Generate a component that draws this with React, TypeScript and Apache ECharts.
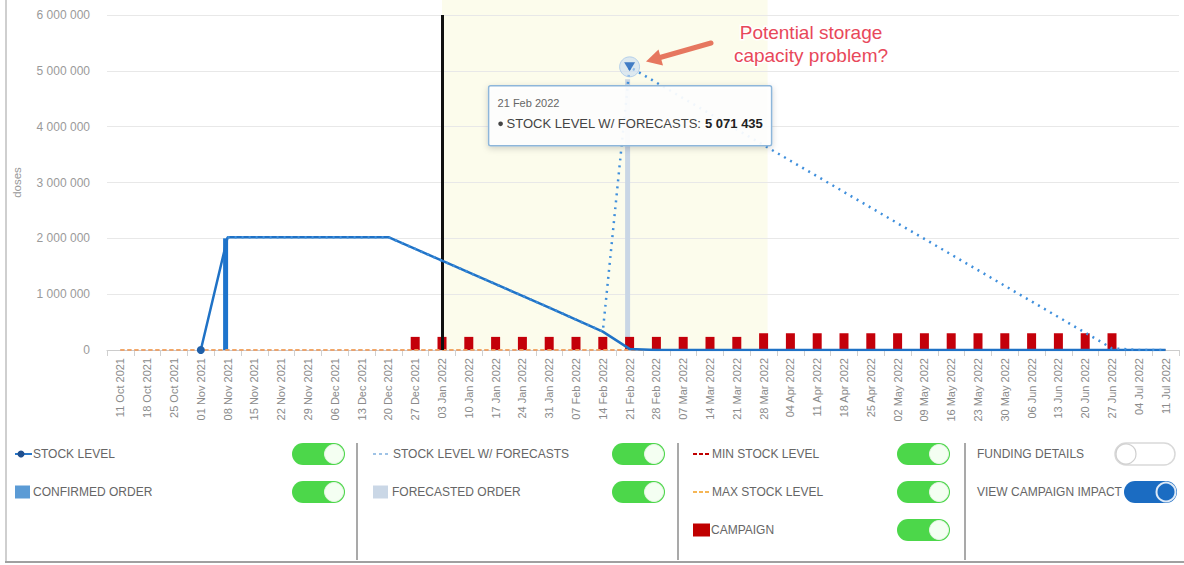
import React, { useEffect, useRef } from 'react';
import * as echarts from 'echarts';

const weeks = [
  '11 Oct 2021', '18 Oct 2021', '25 Oct 2021', '01 Nov 2021', '08 Nov 2021', '15 Nov 2021', '22 Nov 2021', '29 Nov 2021',
  '06 Dec 2021', '13 Dec 2021', '20 Dec 2021', '27 Dec 2021', '03 Jan 2022', '10 Jan 2022', '17 Jan 2022', '24 Jan 2022',
  '31 Jan 2022', '07 Feb 2022', '14 Feb 2022', '21 Feb 2022', '28 Feb 2022', '07 Mar 2022', '14 Mar 2022', '21 Mar 2022',
  '28 Mar 2022', '04 Apr 2022', '11 Apr 2022', '18 Apr 2022', '25 Apr 2022', '02 May 2022', '09 May 2022', '16 May 2022',
  '23 May 2022', '30 May 2022', '06 Jun 2022', '13 Jun 2022', '20 Jun 2022', '27 Jun 2022', '04 Jul 2022', '11 Jul 2022',
];

const stockLevel = [
  null, null, null, 0, 2020000, 2020000, 2020000, 2020000,
  2020000, 2020000, 2020000, 1810000, 1600000, 1390000, 1180000, 970000,
  760000, 545000, 330000, 20000, 0, 0, 0, 0,
  0, 0, 0, 0, 0, 0, 0, 0,
  0, 0, 0, 0, 0, 0, 0, 0,
];

const stockWithForecasts = [
  null, null, null, null, 2020000, 2020000, 2020000, 2020000,
  2020000, 2020000, 2020000, 1810000, 1600000, 1390000, 1180000, 970000,
  760000, 545000, 330000, 5071435, 4790000, 4510000, 4230000, 3950000,
  3670000, 3390000, 3110000, 2830000, 2550000, 2270000, 1990000, 1710000,
  1430000, 1150000, 870000, 590000, 310000, 30000, 0, 0,
];

const confirmedOrder = [
  null, null, null, null, 2000000, null, null, null,
  null, null, null, null, null, null, null, null,
  null, null, null, null, null, null, null, null,
  null, null, null, null, null, null, null, null,
  null, null, null, null, null, null, null, null,
];

const forecastedOrder = [
  null, null, null, null, null, null, null, null,
  null, null, null, null, null, null, null, null,
  null, null, null, 4850000, null, null, null, null,
  null, null, null, null, null, null, null, null,
  null, null, null, null, null, null, null, null,
];

const campaign = [
  null, null, null, null, null, null, null, null,
  null, null, null, 235000, 235000, 235000, 235000, 235000,
  235000, 235000, 235000, 235000, 235000, 235000, 235000, 235000,
  300000, 300000, 300000, 300000, 300000, 300000, 300000, 300000,
  300000, 300000, 300000, 300000, 300000, 300000, null, null,
];

const minStockLevel = weeks.map(() => 0);
const maxStockLevel = weeks.map(() => 0);

const yTicks = { min: 0, max: 6000000, interval: 1000000 };
const todayWeek = '03 Jan 2022';
const bandStartWeek = '03 Jan 2022';
const bandEndWeek = '28 Mar 2022';

const legendCol1 = ['STOCK LEVEL', 'CONFIRMED ORDER'];
const legendCol2 = ['STOCK LEVEL W/ FORECASTS', 'FORECASTED ORDER'];
const legendCol3 = ['MIN STOCK LEVEL', 'MAX STOCK LEVEL', 'CAMPAIGN'];
const legendCol4 = ['FUNDING DETAILS', 'VIEW CAMPAIGN IMPACT'];
const annotationLines = ['Potential storage', 'capacity problem?'];

const FONT = '"Liberation Sans", Arial, Helvetica, sans-serif';
const fmt = (v: number) => String(Math.round(v)).replace(/\B(?=(\d{3})+(?!\d))/g, ' ');

const peakValue = Math.max(...(stockWithForecasts.filter((v) => v !== null) as number[]));
const peakIndex = stockWithForecasts.indexOf(peakValue);
const peakSeries = stockWithForecasts.map((v, i) => (i === peakIndex ? v : null));

function txt(x: number, y: number, text: string, size = 12, fill = '#666', extra: any = {}) {
  return {
    type: 'text',
    z: 50,
    style: {
      x, y, text, fill,
      font: `${size}px ${FONT}`,
      verticalAlign: 'middle', textVerticalAlign: 'middle',
      ...extra,
    },
  };
}

function toggle(x: number, cy: number, mode: 'green' | 'off' | 'blue', w = 53) {
  const h = 22;
  const y = cy - h / 2;
  if (mode === 'off') {
    return [
      { type: 'rect', z: 50, shape: { x, y, width: w, height: h, r: 11 }, style: { fill: '#fff', stroke: '#d9d9d9', lineWidth: 1.5 } },
      { type: 'circle', z: 51, shape: { cx: x + 11, cy, r: 10 }, style: { fill: '#fff', stroke: '#cfcfcf', lineWidth: 1.2 } },
    ];
  }
  const fill = mode === 'green' ? '#4cd74a' : '#1b6cc2';
  return [
    { type: 'rect', z: 50, shape: { x, y, width: w, height: h, r: 11 }, style: { fill } },
    {
      type: 'circle', z: 51, shape: { cx: x + w - 11, cy, r: 9.5 },
      style: mode === 'green' ? { fill: '#f4fff2', stroke: '#e6f5e4', lineWidth: 1 } : { fill: '#1b6cc2', stroke: '#dfeaf7', lineWidth: 2 },
    },
  ];
}

function buildGraphics(chart: any) {
  const xa = chart.convertToPixel({ xAxisIndex: 0 }, weeks.indexOf(bandStartWeek));
  const xb = chart.convertToPixel({ xAxisIndex: 0 }, weeks.indexOf(bandEndWeek));
  const y0 = chart.convertToPixel({ yAxisIndex: 0 }, 0);
  const [px, py] = chart.convertToPixel({ gridIndex: 0 }, [peakIndex, peakValue]);

  const rows = [454, 492, 530];
  const els: any[] = [];

  // highlighted band
  els.push({ type: 'rect', z: -1, shape: { x: xa, y: 0, width: xb - xa + 4, height: y0 }, style: { fill: '#fcfcec' } });

  // card borders
  els.push({ type: 'rect', z: 50, shape: { x: 5, y: 0, width: 2, height: 562 }, style: { fill: '#cfcfcf' } });
  els.push({ type: 'rect', z: 50, shape: { x: 5, y: 561, width: 1179, height: 2 }, style: { fill: '#a0a0a0' } });

  // dividers
  [357, 678, 965].forEach((x) => {
    els.push({ type: 'line', z: 50, shape: { x1: x, y1: 443, x2: x, y2: 560 }, style: { stroke: '#8c8c8c', lineWidth: 1.5 } });
  });

  // column 1
  els.push({ type: 'line', z: 50, shape: { x1: 15, y1: rows[0], x2: 32, y2: rows[0] }, style: { stroke: '#2a78c8', lineWidth: 2 } });
  els.push({ type: 'circle', z: 51, shape: { cx: 21, cy: rows[0], r: 3.5 }, style: { fill: '#1f4f8f' } });
  els.push(txt(33, rows[0], legendCol1[0]));
  els.push({ type: 'rect', z: 50, shape: { x: 15, y: rows[1] - 6.5, width: 15, height: 13 }, style: { fill: '#5b9bd5' } });
  els.push(txt(33, rows[1], legendCol1[1]));
  els.push(...toggle(292, rows[0], 'green'), ...toggle(292, rows[1], 'green'));

  // column 2
  els.push({ type: 'line', z: 50, shape: { x1: 373, y1: rows[0], x2: 390, y2: rows[0] }, style: { stroke: '#9fc3e6', lineWidth: 2, lineDash: [3, 3] } });
  els.push(txt(393, rows[0], legendCol2[0]));
  els.push({ type: 'rect', z: 50, shape: { x: 373, y: rows[1] - 6.5, width: 15, height: 13 }, style: { fill: '#cad7e6' } });
  els.push(txt(392, rows[1], legendCol2[1]));
  els.push(...toggle(612, rows[0], 'green'), ...toggle(612, rows[1], 'green'));

  // column 3
  els.push({ type: 'line', z: 50, shape: { x1: 693, y1: rows[0], x2: 710, y2: rows[0] }, style: { stroke: '#c00000', lineWidth: 2, lineDash: [4, 2] } });
  els.push(txt(712, rows[0], legendCol3[0]));
  els.push({ type: 'line', z: 50, shape: { x1: 693, y1: rows[1], x2: 710, y2: rows[1] }, style: { stroke: '#f5b656', lineWidth: 2, lineDash: [4, 2] } });
  els.push(txt(712, rows[1], legendCol3[1]));
  els.push({ type: 'rect', z: 50, shape: { x: 693, y: rows[2] - 6.5, width: 17, height: 13 }, style: { fill: '#c00000' } });
  els.push(txt(711, rows[2], legendCol3[2]));
  els.push(...toggle(897, rows[0], 'green'), ...toggle(897, rows[1], 'green'), ...toggle(897, rows[2], 'green'));

  // column 4
  els.push(txt(977, rows[0], legendCol4[0]));
  els.push(txt(977, rows[1], legendCol4[1]));
  els.push(...toggle(1115, rows[0], 'off', 60), ...toggle(1124, rows[1], 'blue', 53));

  // tooltip
  const tx = px - 141;
  const ty = py + 19;
  els.push({
    type: 'rect', z: 60,
    shape: { x: tx, y: ty, width: 283, height: 60, r: 2 },
    style: { fill: 'rgba(255,255,255,0.92)', stroke: '#8db6da', lineWidth: 1.5, shadowBlur: 6, shadowColor: 'rgba(0,0,0,0.18)', shadowOffsetY: 2 },
  });
  els.push({ type: 'text', z: 61, style: { x: tx + 9, y: ty + 17, text: weeks[peakIndex], fill: '#666', font: `11px ${FONT}`, verticalAlign: 'middle', textVerticalAlign: 'middle' } });
  els.push({ type: 'circle', z: 61, shape: { cx: tx + 12, cy: ty + 38, r: 2.3 }, style: { fill: '#444' } });
  els.push({
    type: 'text', z: 61,
    style: {
      x: tx + 18, y: ty + 38,
      text: `{a|STOCK LEVEL W/ FORECASTS: }{b|${fmt(peakValue)}}`,
      verticalAlign: 'middle', textVerticalAlign: 'middle',
      rich: {
        a: { fill: '#444', fontSize: 13, fontFamily: FONT },
        b: { fill: '#222', fontSize: 13, fontFamily: FONT, fontWeight: 'bold' },
      },
    },
  });

  // arrow
  els.push({ type: 'line', z: 62, shape: { x1: 711, y1: 43, x2: 660, y2: 57.5 }, style: { stroke: '#e6775f', lineWidth: 5, lineCap: 'round' } });
  els.push({ type: 'polygon', z: 62, shape: { points: [[646, 61.5], [663, 65.5], [658.5, 49.5]] }, style: { fill: '#e6775f' } });

  // annotation text
  annotationLines.forEach((line, i) => {
    els.push({
      type: 'text', z: 63,
      style: {
        x: 811, y: 32 + i * 23, text: line,
        fill: '#e8485a', font: `19px ${FONT}`,
        align: 'center', textAlign: 'center', verticalAlign: 'middle', textVerticalAlign: 'middle',
        stroke: '#ffffff', lineWidth: 3,
        shadowBlur: 3, shadowColor: 'rgba(0,0,0,0.25)',
      },
    });
  });

  return els;
}

export default function App() {
  const ref = useRef<HTMLDivElement>(null);

  useEffect(() => {
    if (!ref.current) return;
    const chart = echarts.init(ref.current, null, { renderer: 'svg' });
    const option: any = {
      animation: false,
      backgroundColor: '#ffffff',
      textStyle: { fontFamily: FONT },
      grid: { left: 107, right: 5, top: 15, bottom: 215 },
      xAxis: {
        type: 'category',
        data: weeks,
        boundaryGap: true,
        axisLine: { lineStyle: { color: '#cccccc' } },
        axisTick: { show: true, length: 6, lineStyle: { color: '#d0d0d0' } },
        axisLabel: { interval: 0, rotate: 90, fontSize: 11, color: '#8a8a8a', margin: 8, fontFamily: FONT },
        splitLine: { show: false },
      },
      yAxis: {
        type: 'value',
        min: yTicks.min,
        max: yTicks.max,
        interval: yTicks.interval,
        name: 'doses',
        nameLocation: 'middle',
        nameGap: 84,
        nameTextStyle: { color: '#999', fontSize: 11.5, fontFamily: FONT },
        axisLine: { show: false },
        axisTick: { show: false },
        axisLabel: { color: '#9a9a9a', fontSize: 12, margin: 17, formatter: (v: number) => fmt(v), fontFamily: FONT },
        splitLine: { lineStyle: { color: '#e8e8e8' } },
      },
      series: [
        {
          name: 'CONFIRMED ORDER', type: 'bar', data: confirmedOrder, barWidth: 5, barGap: '-100%',
          itemStyle: { color: '#1e74cc' }, z: 2,
        },
        {
          name: 'FORECASTED ORDER', type: 'bar', data: forecastedOrder, barWidth: 5, barGap: '-100%',
          itemStyle: { color: '#c9d6e5' }, z: 2,
        },
        {
          name: 'CAMPAIGN', type: 'bar', data: campaign, barWidth: 9, barGap: '-100%',
          itemStyle: { color: '#c4000a' }, z: 3,
        },
        {
          name: 'MIN STOCK LEVEL', type: 'line', data: minStockLevel, symbol: 'none',
          lineStyle: { color: '#d9534f', width: 1.5, type: [4, 3] }, z: 3,
        },
        {
          name: 'MAX STOCK LEVEL', type: 'line', data: maxStockLevel, symbol: 'none',
          lineStyle: { color: '#f7b860', width: 1.5, type: [4, 3] }, z: 3,
        },
        {
          name: 'STOCK LEVEL', type: 'line', data: stockLevel.map((v, i) => (i === 3 ? { value: v, symbol: 'circle', symbolSize: 8 } : v)),
          symbol: 'none', showSymbol: true, showAllSymbol: true,
          itemStyle: { color: '#1f5fa8' },
          lineStyle: { color: '#1f72c6', width: 2.5 },
          z: 5,
          markLine: {
            silent: true, symbol: 'none', label: { show: false },
            lineStyle: { color: '#111111', width: 3, type: 'solid' },
            data: [{ xAxis: todayWeek }],
          },
        },
        {
          name: 'STOCK LEVEL W/ FORECASTS', type: 'line', data: stockWithForecasts, symbol: 'none',
          lineStyle: { color: '#3f8fdc', width: 2.5, type: [2, 5] }, z: 6,
        },
        {
          name: 'peak-ring', type: 'scatter', data: peakSeries, symbol: 'circle', symbolSize: 20,
          itemStyle: { color: 'rgba(200,220,242,0.75)', borderColor: '#a9c8e8', borderWidth: 1 }, z: 7,
        },
        {
          name: 'peak', type: 'scatter', data: peakSeries, symbol: 'triangle', symbolRotate: 180, symbolSize: [11, 9],
          itemStyle: { color: '#1a62ba' }, z: 8,
        },
      ],
    };
    chart.setOption(option);
    chart.setOption({ graphic: { elements: buildGraphics(chart) } });
    return () => chart.dispose();
  }, []);

  return (
    <div
      ref={ref}
      style={{ position: 'absolute', left: 0, top: 0, width: 1184, height: 565, background: '#fff' }}
    />
  );
}
